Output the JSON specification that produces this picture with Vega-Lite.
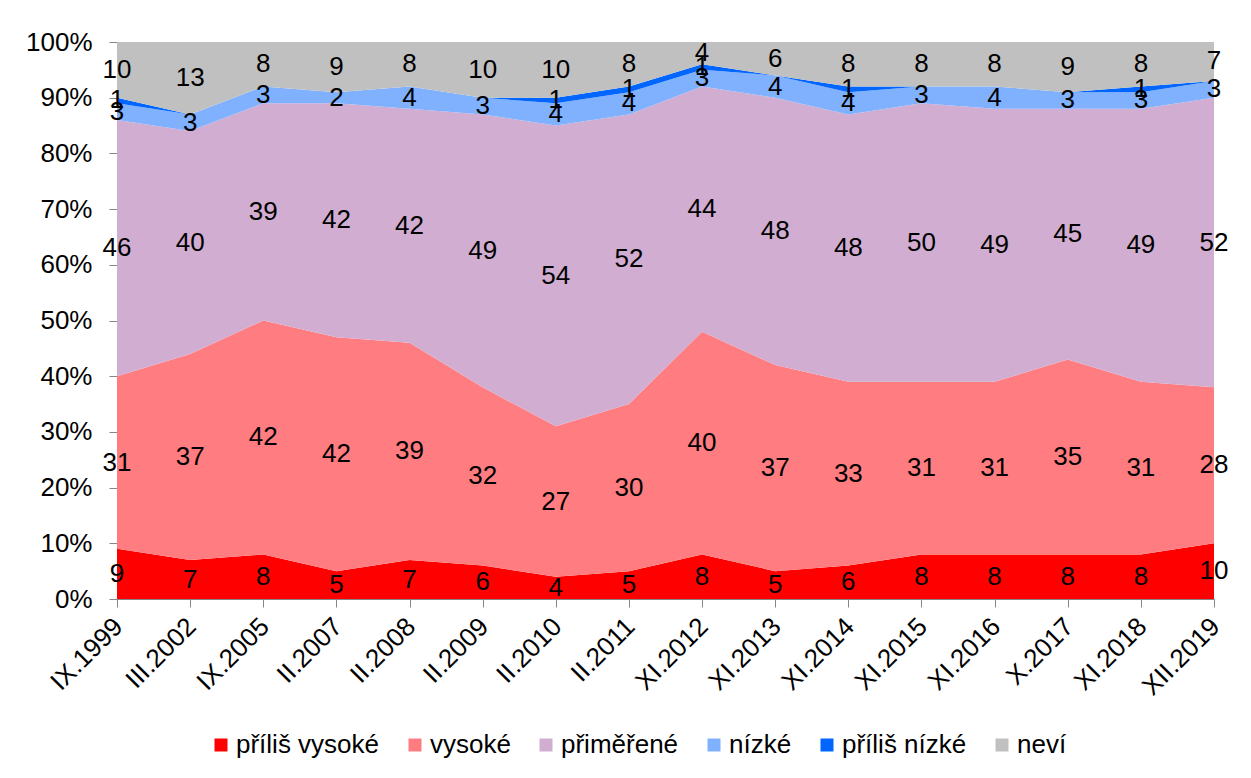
{
  "$schema": "https://vega.github.io/schema/vega-lite/v6.json",
  "width": 1097,
  "height": 557,
  "autosize": "none",
  "padding": {"left": 117, "top": 42, "right": 37, "bottom": 179},
  "background": "white",
  "config": {"view": {"stroke": null}, "font": "Liberation Sans"},
  "data": {"values": [
    {"d":"IX.1999","k":"příliš vysoké","o":1,"p":9},{"d":"IX.1999","k":"vysoké","o":2,"p":31},{"d":"IX.1999","k":"přiměřené","o":3,"p":46},{"d":"IX.1999","k":"nízké","o":4,"p":3},{"d":"IX.1999","k":"příliš nízké","o":5,"p":1},{"d":"IX.1999","k":"neví","o":6,"p":10},
    {"d":"III.2002","k":"příliš vysoké","o":1,"p":7},{"d":"III.2002","k":"vysoké","o":2,"p":37},{"d":"III.2002","k":"přiměřené","o":3,"p":40},{"d":"III.2002","k":"nízké","o":4,"p":3},{"d":"III.2002","k":"příliš nízké","o":5,"p":0},{"d":"III.2002","k":"neví","o":6,"p":13},
    {"d":"IX.2005","k":"příliš vysoké","o":1,"p":8},{"d":"IX.2005","k":"vysoké","o":2,"p":42},{"d":"IX.2005","k":"přiměřené","o":3,"p":39},{"d":"IX.2005","k":"nízké","o":4,"p":3},{"d":"IX.2005","k":"příliš nízké","o":5,"p":0},{"d":"IX.2005","k":"neví","o":6,"p":8},
    {"d":"II.2007","k":"příliš vysoké","o":1,"p":5},{"d":"II.2007","k":"vysoké","o":2,"p":42},{"d":"II.2007","k":"přiměřené","o":3,"p":42},{"d":"II.2007","k":"nízké","o":4,"p":2},{"d":"II.2007","k":"příliš nízké","o":5,"p":0},{"d":"II.2007","k":"neví","o":6,"p":9},
    {"d":"II.2008","k":"příliš vysoké","o":1,"p":7},{"d":"II.2008","k":"vysoké","o":2,"p":39},{"d":"II.2008","k":"přiměřené","o":3,"p":42},{"d":"II.2008","k":"nízké","o":4,"p":4},{"d":"II.2008","k":"příliš nízké","o":5,"p":0},{"d":"II.2008","k":"neví","o":6,"p":8},
    {"d":"II.2009","k":"příliš vysoké","o":1,"p":6},{"d":"II.2009","k":"vysoké","o":2,"p":32},{"d":"II.2009","k":"přiměřené","o":3,"p":49},{"d":"II.2009","k":"nízké","o":4,"p":3},{"d":"II.2009","k":"příliš nízké","o":5,"p":0},{"d":"II.2009","k":"neví","o":6,"p":10},
    {"d":"II.2010","k":"příliš vysoké","o":1,"p":4},{"d":"II.2010","k":"vysoké","o":2,"p":27},{"d":"II.2010","k":"přiměřené","o":3,"p":54},{"d":"II.2010","k":"nízké","o":4,"p":4},{"d":"II.2010","k":"příliš nízké","o":5,"p":1},{"d":"II.2010","k":"neví","o":6,"p":10},
    {"d":"II.2011","k":"příliš vysoké","o":1,"p":5},{"d":"II.2011","k":"vysoké","o":2,"p":30},{"d":"II.2011","k":"přiměřené","o":3,"p":52},{"d":"II.2011","k":"nízké","o":4,"p":4},{"d":"II.2011","k":"příliš nízké","o":5,"p":1},{"d":"II.2011","k":"neví","o":6,"p":8},
    {"d":"XI.2012","k":"příliš vysoké","o":1,"p":8},{"d":"XI.2012","k":"vysoké","o":2,"p":40},{"d":"XI.2012","k":"přiměřené","o":3,"p":44},{"d":"XI.2012","k":"nízké","o":4,"p":3},{"d":"XI.2012","k":"příliš nízké","o":5,"p":1},{"d":"XI.2012","k":"neví","o":6,"p":4},
    {"d":"XI.2013","k":"příliš vysoké","o":1,"p":5},{"d":"XI.2013","k":"vysoké","o":2,"p":37},{"d":"XI.2013","k":"přiměřené","o":3,"p":48},{"d":"XI.2013","k":"nízké","o":4,"p":4},{"d":"XI.2013","k":"příliš nízké","o":5,"p":0},{"d":"XI.2013","k":"neví","o":6,"p":6},
    {"d":"XI.2014","k":"příliš vysoké","o":1,"p":6},{"d":"XI.2014","k":"vysoké","o":2,"p":33},{"d":"XI.2014","k":"přiměřené","o":3,"p":48},{"d":"XI.2014","k":"nízké","o":4,"p":4},{"d":"XI.2014","k":"příliš nízké","o":5,"p":1},{"d":"XI.2014","k":"neví","o":6,"p":8},
    {"d":"XI.2015","k":"příliš vysoké","o":1,"p":8},{"d":"XI.2015","k":"vysoké","o":2,"p":31},{"d":"XI.2015","k":"přiměřené","o":3,"p":50},{"d":"XI.2015","k":"nízké","o":4,"p":3},{"d":"XI.2015","k":"příliš nízké","o":5,"p":0},{"d":"XI.2015","k":"neví","o":6,"p":8},
    {"d":"XI.2016","k":"příliš vysoké","o":1,"p":8},{"d":"XI.2016","k":"vysoké","o":2,"p":31},{"d":"XI.2016","k":"přiměřené","o":3,"p":49},{"d":"XI.2016","k":"nízké","o":4,"p":4},{"d":"XI.2016","k":"příliš nízké","o":5,"p":0},{"d":"XI.2016","k":"neví","o":6,"p":8},
    {"d":"X.2017","k":"příliš vysoké","o":1,"p":8},{"d":"X.2017","k":"vysoké","o":2,"p":35},{"d":"X.2017","k":"přiměřené","o":3,"p":45},{"d":"X.2017","k":"nízké","o":4,"p":3},{"d":"X.2017","k":"příliš nízké","o":5,"p":0},{"d":"X.2017","k":"neví","o":6,"p":9},
    {"d":"XI.2018","k":"příliš vysoké","o":1,"p":8},{"d":"XI.2018","k":"vysoké","o":2,"p":31},{"d":"XI.2018","k":"přiměřené","o":3,"p":49},{"d":"XI.2018","k":"nízké","o":4,"p":3},{"d":"XI.2018","k":"příliš nízké","o":5,"p":1},{"d":"XI.2018","k":"neví","o":6,"p":8},
    {"d":"XII.2019","k":"příliš vysoké","o":1,"p":10},{"d":"XII.2019","k":"vysoké","o":2,"p":28},{"d":"XII.2019","k":"přiměřené","o":3,"p":52},{"d":"XII.2019","k":"nízké","o":4,"p":3},{"d":"XII.2019","k":"příliš nízké","o":5,"p":0},{"d":"XII.2019","k":"neví","o":6,"p":7}
  ]},
  "transform": [
    {"stack": "p", "groupby": ["d"], "sort": [{"field": "o", "order": "ascending"}], "as": ["y0", "y1"]}
  ],
  "layer": [
    {
      "mark": {"type": "area", "interpolate": "linear"},
      "encoding": {
        "x": {
          "field": "d", "type": "ordinal",
          "sort": ["IX.1999","III.2002","IX.2005","II.2007","II.2008","II.2009","II.2010","II.2011","XI.2012","XI.2013","XI.2014","XI.2015","XI.2016","X.2017","XI.2018","XII.2019"],
          "scale": {"type": "point", "padding": 0},
          "axis": {
            "title": null, "labelAngle": -45, "labelAlign": "right", "labelBaseline": "top",
            "labelFontSize": 26, "labelColor": "black", "labelOffset": -8,
            "domainColor": "#868686", "tickColor": "#868686", "tickSize": 8, "labelPadding": 6,
            "grid": false
          }
        },
        "y": {
          "field": "y1", "type": "quantitative",
          "scale": {"domain": [0, 100], "nice": false},
          "axis": {
            "title": null, "values": [0,10,20,30,40,50,60,70,80,90,100],
            "labelExpr": "datum.value + '%'", "labelFontSize": 26, "labelColor": "black",
            "domainColor": "#868686", "tickColor": "#868686", "tickSize": 8, "labelPadding": 17,
            "grid": false
          }
        },
        "y2": {"field": "y0"},
        "color": {
          "field": "k", "type": "nominal",
          "scale": {
            "domain": ["příliš vysoké","vysoké","přiměřené","nízké","příliš nízké","neví"],
            "range": ["#FF0000","#FF7C80","#D1AED1","#80B1FF","#0066FF","#C0C0C0"]
          },
          "legend": {
            "title": null, "orient": "none", "legendX": 91, "legendY": 690,
            "direction": "horizontal", "symbolType": "square", "symbolSize": 169,
            "symbolStrokeWidth": 0, "symbolOpacity": 1,
            "labelFontSize": 26, "labelColor": "black", "labelOffset": 2, "columnPadding": 22
          }
        },
        "order": {"field": "o"}
      }
    },
    {
      "transform": [
        {"filter": "datum.p > 0"},
        {"fold": ["y0", "y1"], "as": ["edge", "v"]},
        {"aggregate": [{"op": "mean", "field": "v", "as": "mid"}], "groupby": ["d", "k", "p"]}
      ],
      "mark": {"type": "text", "fontSize": 26, "color": "black", "align": "center", "baseline": "middle"},
      "encoding": {
        "x": {"field": "d", "type": "ordinal", "sort": ["IX.1999","III.2002","IX.2005","II.2007","II.2008","II.2009","II.2010","II.2011","XI.2012","XI.2013","XI.2014","XI.2015","XI.2016","X.2017","XI.2018","XII.2019"]},
        "y": {"field": "mid", "type": "quantitative"},
        "text": {"field": "p", "type": "quantitative"}
      }
    }
  ]
}
